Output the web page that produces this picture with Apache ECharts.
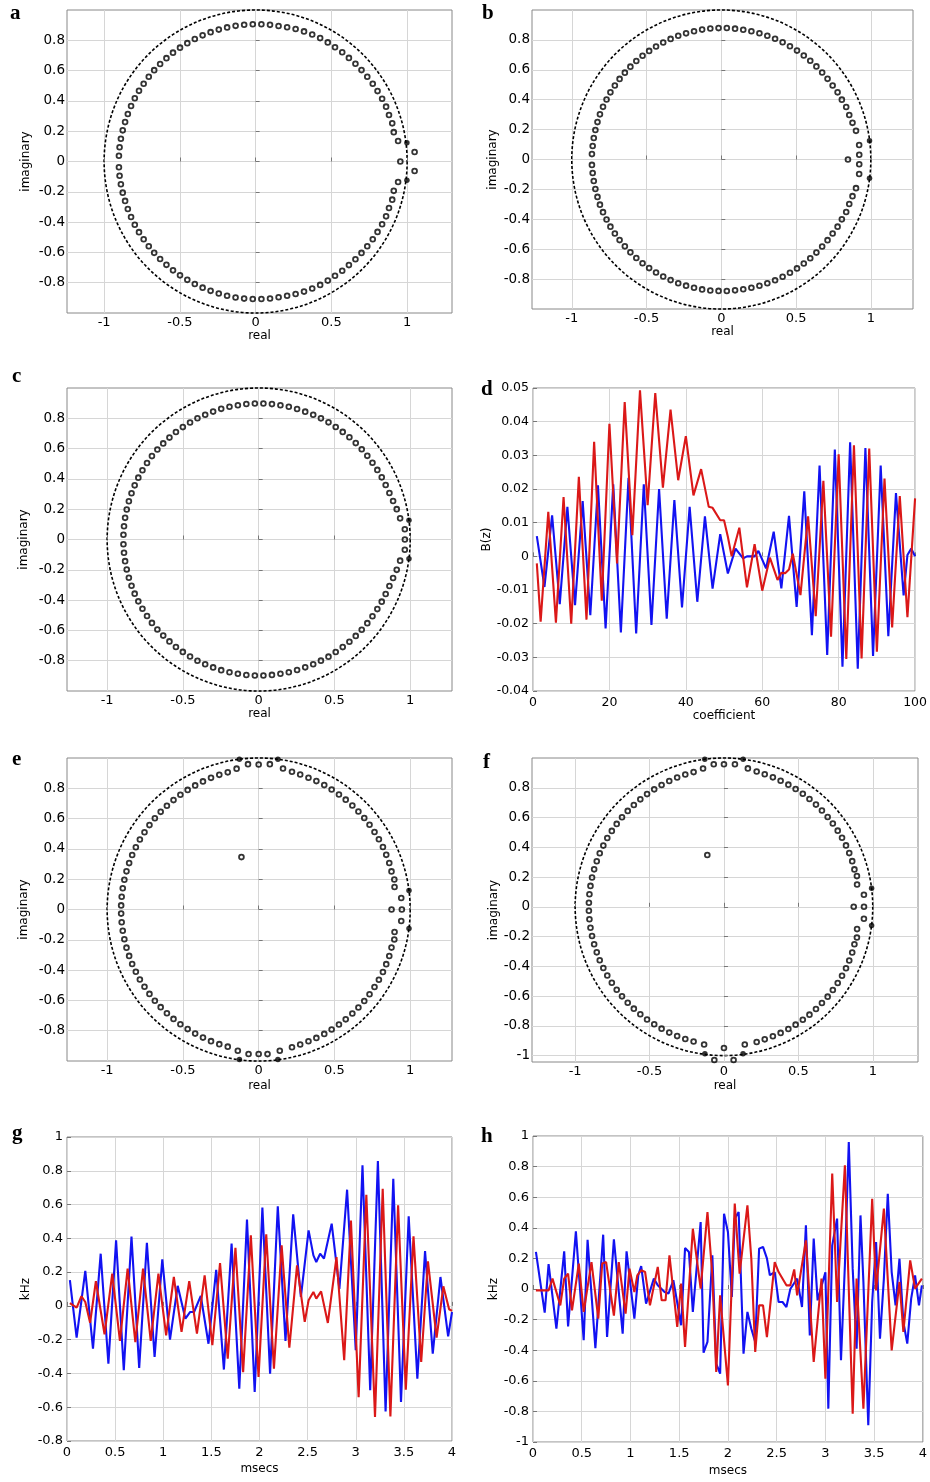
<!DOCTYPE html>
<html>
<head>
<meta charset="utf-8">
<script src="https://cdn.jsdelivr.net/npm/echarts@6/dist/echarts.min.js"></script>
<style>
html, body { margin: 0; padding: 0; background: #fff; }
#main { width: 930px; height: 1482px; }
</style>
</head>
<body>
<div id="main"></div>
<script>
// ---- data: zeros as [radius, angle in degrees] ----
var zerosA = [
    [.955, 0], [.95, 8.2], [.95, -8.2], [1.051, 3.4], [1.051, -3.4],
    [.932, 12], [.936, 15.6], [.932, 19.2], [.934, 22.8], [.932, 26.4], [.929, 30], [.928, 33.6], [.925, 37.2],
    [.923, 40.8], [.922, 44.4], [.92, 48], [.92, 51.6], [.918, 55.2], [.919, 58.8], [.919, 62.4], [.918, 66],
    [.916, 69.6], [.913, 73.2], [.91, 76.8], [.907, 80.4], [.907, 84], [.907, 87.6], [.906, 91.2], [.906, 94.8],
    [.905, 98.4], [.905, 102], [.904, 105.6], [.904, 109.2], [.903, 112.8], [.903, 116.4], [.902, 120], [.902, 123.6],
    [.902, 127.2], [.901, 130.8], [.901, 134.4], [.901, 138], [.9, 141.6], [.9, 145.2], [.9, 148.8], [.9, 152.4],
    [.9, 156], [.9, 159.6], [.9, 163.2], [.901, 166.8], [.902, 170.4], [.903, 174], [.903, 177.6],
    [.932, -12], [.936, -15.6], [.932, -19.2], [.934, -22.8], [.932, -26.4], [.929, -30], [.928, -33.6], [.925, -37.2],
    [.923, -40.8], [.922, -44.4], [.92, -48], [.92, -51.6], [.918, -55.2], [.919, -58.8], [.919, -62.4], [.918, -66],
    [.916, -69.6], [.913, -73.2], [.91, -76.8], [.909, -80.4], [.909, -84], [.908, -87.6], [.908, -91.2], [.908, -94.8],
    [.907, -98.4], [.906, -102], [.905, -105.6], [.904, -109.2], [.903, -112.8], [.903, -116.4], [.902, -120], [.902, -123.6],
    [.902, -127.2], [.901, -130.8], [.901, -134.4], [.901, -138], [.9, -141.6], [.9, -145.2], [.9, -148.8], [.9, -152.4],
    [.9, -156], [.9, -159.6], [.9, -163.2], [.901, -166.8], [.902, -170.4], [.903, -174], [.903, -177.6]
];
var dotsA = [[1.006, 7.1], [1.006, -7.1]];

var zerosB = [
    [.847, 0], [.923, 2], [.923, -2], [.927, 6], [.927, -6],
    [.921, 12], [.911, 15.6], [.906, 19.2], [.906, 22.8], [.9, 26.4], [.898, 30], [.894, 33.6], [.892, 37.2],
    [.891, 40.8], [.89, 44.4], [.889, 48], [.888, 51.6], [.887, 55.2], [.886, 58.8], [.885, 62.4], [.884, 66],
    [.883, 69.6], [.882, 73.2], [.881, 76.8], [.88, 80.4], [.88, 84], [.88, 87.6], [.879, 91.2], [.879, 94.8],
    [.878, 98.4], [.877, 102], [.876, 105.6], [.876, 109.2], [.875, 112.8], [.874, 116.4], [.873, 120], [.872, 123.6],
    [.871, 127.2], [.87, 130.8], [.869, 134.4], [.868, 138], [.868, 141.6], [.867, 145.2], [.867, 148.8], [.866, 152.4],
    [.866, 156], [.866, 159.6], [.865, 163.2], [.865, 166.8], [.865, 170.4], [.865, 174], [.866, 177.6],
    [.921, -12], [.911, -15.6], [.906, -19.2], [.906, -22.8], [.9, -26.4], [.898, -30], [.894, -33.6], [.892, -37.2],
    [.891, -40.8], [.89, -44.4], [.889, -48], [.888, -51.6], [.887, -55.2], [.886, -58.8], [.885, -62.4], [.884, -66],
    [.883, -69.6], [.882, -73.2], [.881, -76.8], [.88, -80.4], [.88, -84], [.88, -87.6], [.879, -91.2], [.879, -94.8],
    [.878, -98.4], [.877, -102], [.876, -105.6], [.876, -109.2], [.875, -112.8], [.874, -116.4], [.873, -120], [.872, -123.6],
    [.871, -127.2], [.87, -130.8], [.869, -134.4], [.868, -138], [.868, -141.6], [.867, -145.2], [.867, -148.8], [.866, -152.4],
    [.866, -156], [.866, -159.6], [.865, -163.2], [.865, -166.8], [.865, -170.4], [.865, -174], [.866, -177.6]
];
var dotsB = [[.999, 7.2], [.999, -7.2]];

var zerosC = [
    [.965, 0], [.967, 4], [.967, -4], [.944, 8.5], [.944, -8.5],
    [.933, 12.4], [.923, 16], [.916, 19.6], [.912, 23.2], [.91, 26.8], [.908, 30.4], [.906, 34], [.905, 37.6],
    [.904, 41.2], [.903, 44.8], [.902, 48.4], [.901, 52], [.9, 55.6], [.9, 59.2], [.899, 62.8], [.899, 66.4],
    [.898, 70], [.898, 73.6], [.898, 77.2], [.898, 80.8], [.898, 84.4], [.898, 88], [.898, 91.6], [.898, 95.2],
    [.897, 98.8], [.897, 102.4], [.897, 106], [.896, 109.6], [.896, 113.2], [.896, 116.8], [.895, 120.4], [.895, 124],
    [.895, 127.6], [.894, 131.2], [.894, 134.8], [.894, 138.4], [.894, 142], [.893, 145.6], [.893, 149.2], [.893, 152.8],
    [.893, 156.4], [.893, 160], [.893, 163.6], [.893, 167.2], [.893, 170.8], [.893, 174.4], [.893, 178],
    [.933, -12.4], [.923, -16], [.916, -19.6], [.912, -23.2], [.91, -26.8], [.908, -30.4], [.906, -34], [.905, -37.6],
    [.904, -41.2], [.903, -44.8], [.902, -48.4], [.901, -52], [.9, -55.6], [.9, -59.2], [.899, -62.8], [.899, -66.4],
    [.898, -70], [.898, -73.6], [.898, -77.2], [.898, -80.8], [.898, -84.4], [.898, -88], [.898, -91.6], [.898, -95.2],
    [.897, -98.8], [.897, -102.4], [.897, -106], [.896, -109.6], [.896, -113.2], [.896, -116.8], [.895, -120.4], [.895, -124],
    [.895, -127.6], [.894, -131.2], [.894, -134.8], [.894, -138.4], [.894, -142], [.893, -145.6], [.893, -149.2], [.893, -152.8],
    [.893, -156.4], [.893, -160], [.893, -163.6], [.893, -167.2], [.893, -170.8], [.893, -174.4], [.893, -178]
];
var dotsC = [[1.0, 7.3], [1.0, -7.3]];

// ring shared by e and f (the two designs differ near the real axis and at +-90 deg)
var ringEF = [
    [.912, 16], [.915, 19.6], [.916, 23.2], [.918, 26.7], [.919, 30.3], [.92, 33.8], [.921, 37.4], [.922, 40.9],
    [.923, 44.5], [.924, 48], [.925, 51.6], [.926, 55.1], [.927, 58.7], [.928, 62.2], [.929, 65.8], [.93, 69.3],
    [.932, 72.9], [.935, 76.4],
    [.928, 102.7], [.926, 106.3], [.924, 109.9], [.922, 113.5], [.92, 117.1], [.918, 120.7], [.917, 124.3], [.915, 127.9],
    [.914, 131.5], [.913, 135.1], [.912, 138.7], [.911, 142.3], [.91, 145.9], [.91, 149.5], [.909, 153.1], [.909, 156.7],
    [.908, 160.3], [.908, 163.9], [.908, 167.5], [.908, 171.1], [.908, 174.7], [.908, 178.3],
    [.912, -16], [.915, -19.6], [.916, -23.2], [.918, -26.7], [.919, -30.3], [.92, -33.8], [.921, -37.4], [.922, -40.9],
    [.923, -44.5], [.924, -48], [.925, -51.6], [.926, -55.1], [.927, -58.7], [.928, -62.2], [.929, -65.8], [.93, -69.3],
    [.932, -72.9], [.935, -76.4],
    [.928, -102.7], [.926, -106.3], [.924, -109.9], [.922, -113.5], [.92, -117.1], [.918, -120.7], [.917, -124.3], [.915, -127.9],
    [.914, -131.5], [.913, -135.1], [.912, -138.7], [.911, -142.3], [.91, -145.9], [.91, -149.5], [.909, -153.1], [.909, -156.7],
    [.908, -160.3], [.908, -163.9], [.908, -167.5], [.908, -171.1], [.908, -174.7], [.908, -178.3]
];
var extraE = [
    [.945, 0], [.877, 0], [.944, 4.6], [.944, -4.6], [.909, 9.4], [.909, -9.4], [.917, 12.5], [.917, -12.5],
    [.944, 80.2], [.962, 85.6], [.957, 90], [.962, 94.2], [.941, 98.9],
    [.943, -81.5], [.956, -86.5], [.954, -90], [.956, -94], [.942, -98.4],
    [.364, 108.2]
];
var dotsE = [[1.0, 7.2], [1.0, -7.2], [1.0, 82.7], [1.0, 97.3], [.998, -82.7], [.998, -97.3]];
var extraF = [
    [.941, 0], [.872, 0], [.944, 4.9], [.944, -4.9], [.907, 9.5], [.907, -9.5], [.917, 13], [.917, -13],
    [.944, 80.2], [.961, 85.6], [.958, 90], [.96, 94.1], [.94, 98.6],
    [.936, -81.4], [1.032, -86.4], [.949, -90], [1.032, -93.6], [.935, -98.2],
    [.366, 107.8]
];
var dotsF = [[1.0, 7.2], [1.0, -7.2], [1.0, 82.6], [1.0, 97.4], [.995, -82.6], [.995, -97.4]];

// ---- data: filter coefficients B(z) ----
var dBlue = [
    [1, .006], [3, -.0091], [5, .0122], [7, -.0142], [9, .0147], [11, -.0145], [13, .0164], [15, -.0175],
    [17, .0211], [19, -.0214], [21, .0214], [23, -.0226], [25, .0233], [27, -.0229], [29, .0214], [31, -.0204],
    [33, .02], [35, -.0185], [37, .0167], [39, -.0152], [41, .0147], [43, -.0135], [45, .0119], [47, -.0096],
    [49, .0066], [51, -.0051], [53, .0023], [55, -.0006], [56, 0], [58, 0], [59, .0016], [61, -.0036],
    [63, .0073], [65, -.0095], [67, .012], [69, -.015], [71, .0193], [73, -.0234], [75, .027], [77, -.0293],
    [79, .0317], [81, -.0328], [83, .0339], [85, -.0334], [87, .0322], [89, -.0296], [91, .027], [93, -.0237],
    [95, .0188], [97, -.0116], [98, .0004], [99, .0023], [100, 0]
];
var dRed = [
    [1, -.0021], [2, -.0194], [4, .0132], [6, -.0197], [8, .0176], [10, -.02], [12, .0236], [14, -.0188],
    [16, .034], [18, -.0132], [20, .0394], [22, -.0021], [24, .0458], [26, .0063], [28, .0493], [30, .0152],
    [32, .0485], [34, .0204], [36, .0436], [38, .0226], [40, .0357], [42, .0181], [44, .0259], [46, .0147],
    [47, .0144], [49, .0107], [50, .0107], [51, .0058], [52, 0], [54, .0085], [56, -.0092], [58, .0036],
    [60, -.0102], [62, -.0004], [64, -.007], [65, -.0049], [66, -.005], [67, -.0039], [68, .0008], [70, -.0115],
    [72, .0119], [74, -.0178], [76, .0224], [78, -.0239], [80, .0303], [82, -.0305], [84, .033], [86, -.0303],
    [88, .032], [90, -.0283], [92, .0231], [94, -.0211], [96, .0179], [98, -.0181], [100, .0172]
];

// ---- data: instantaneous frequency (msecs, kHz) ----
var gBlue = [
    [0.03, .152], [0.1, -.188], [0.19, .207], [0.27, -.253], [0.35, .309], [0.43, -.342], [0.51, .388], [0.59, -.381],
    [0.67, .411], [0.75, -.367], [0.83, .374], [0.91, -.302], [0.99, .276], [1.07, -.2], [1.15, .119], [1.23, -.076],
    [1.28, -.036], [1.32, -.036], [1.39, .059], [1.47, -.224], [1.55, .214], [1.63, -.377], [1.71, .369], [1.79, -.49],
    [1.87, .511], [1.95, -.509], [2.03, .582], [2.11, -.401], [2.19, .59], [2.27, -.208], [2.35, .542], [2.43, .053],
    [2.51, .447], [2.56, .299], [2.59, .26], [2.63, .309], [2.67, .28], [2.75, .487], [2.83, .1], [2.91, .688],
    [3.0, -.263], [3.07, .832], [3.15, -.5], [3.23, .858], [3.31, -.625], [3.39, .753], [3.47, -.569], [3.55, .53],
    [3.64, -.431], [3.72, .325], [3.8, -.283], [3.88, .171], [3.96, -.181], [4.0, -.036]
];
var gRed = [
    [0.03, .017], [0.1, -.01], [0.15, .057], [0.19, .023], [0.24, -.1], [0.3, .146], [0.39, -.168], [0.47, .191],
    [0.55, -.207], [0.63, .221], [0.71, -.214], [0.79, .221], [0.87, -.207], [0.95, .191], [1.03, -.174], [1.11, .171],
    [1.19, -.154], [1.27, .147], [1.35, -.164], [1.43, .181], [1.51, -.233], [1.59, .254], [1.67, -.312], [1.75, .344],
    [1.83, -.392], [1.91, .418], [1.99, -.42], [2.07, .424], [2.15, -.372], [2.23, .358], [2.31, -.248], [2.39, .24],
    [2.47, -.095], [2.51, .033], [2.56, .082], [2.59, .043], [2.64, .086], [2.71, -.101], [2.8, .289], [2.88, -.322],
    [2.95, .506], [3.03, -.54], [3.11, .658], [3.2, -.658], [3.28, .694], [3.36, -.654], [3.44, .595], [3.52, -.496],
    [3.6, .412], [3.68, -.332], [3.75, .264], [3.84, -.188], [3.91, .116], [3.97, -.02], [4.0, -.03]
];
var hBlue = [
    [0.03, .242], [0.12, -.155], [0.16, .163], [0.24, -.259], [0.32, .246], [0.36, -.244], [0.44, .377], [0.52, -.335],
    [0.56, .322], [0.64, -.386], [0.72, .355], [0.76, -.314], [0.83, .325], [0.92, -.292], [0.96, .246], [1.04, -.194],
    [1.08, .089], [1.11, .15], [1.16, -.096], [1.24, .068], [1.28, .024], [1.35, -.02], [1.39, -.03], [1.44, .057],
    [1.52, -.237], [1.56, .268], [1.6, .242], [1.64, -.15], [1.72, .438], [1.75, -.416], [1.79, -.346], [1.84, .22],
    [1.88, -.488], [1.92, -.553], [1.96, .492], [2.0, .373], [2.04, -.052], [2.07, .46], [2.11, .503], [2.16, -.423],
    [2.2, -.15], [2.24, -.26], [2.28, -.346], [2.32, .264], [2.36, .275], [2.4, .2], [2.43, .09], [2.48, .11],
    [2.52, -.085], [2.56, -.085], [2.6, -.118], [2.64, 0], [2.71, .068], [2.76, -.118], [2.8, .416], [2.84, -.303],
    [2.88, .329], [2.92, -.074], [3.0, .11], [3.03, -.782], [3.07, .285], [3.12, .46], [3.16, -.466], [3.2, .155],
    [3.24, .961], [3.28, .133], [3.32, -.39], [3.36, .481], [3.39, .046], [3.44, -.891], [3.48, -.085], [3.52, .307],
    [3.56, -.325], [3.6, .068], [3.64, .623], [3.68, .111], [3.72, -.107], [3.76, .198], [3.8, -.216], [3.84, -.357],
    [3.88, -.063], [3.92, .089], [3.96, -.107], [3.99, .024]
];
var hRed = [
    [0.03, -.009], [0.08, -.009], [0.16, -.009], [0.2, .068], [0.28, -.107], [0.32, .068], [0.36, .1], [0.4, -.14],
    [0.47, .166], [0.52, -.15], [0.6, .176], [0.67, -.194], [0.71, .166], [0.75, .176], [0.83, -.174], [0.88, .176],
    [0.95, -.161], [0.99, .133], [1.04, -.02], [1.07, .089], [1.11, .122], [1.15, .111], [1.2, -.107], [1.28, .144],
    [1.32, -.074], [1.36, -.074], [1.4, .22], [1.48, -.248], [1.52, .035], [1.56, -.379], [1.64, .394], [1.72, .002],
    [1.79, .503], [1.84, .089], [1.88, -.542], [1.92, -.041], [2.0, -.63], [2.07, .558], [2.12, .1], [2.2, .547],
    [2.24, .198], [2.28, -.412], [2.32, -.107], [2.36, -.107], [2.4, -.314], [2.48, .176], [2.52, .111], [2.6, .024],
    [2.64, .024], [2.68, .128], [2.71, -.041], [2.8, .318], [2.88, -.477], [2.96, .068], [3.0, -.586], [3.07, .754],
    [3.12, -.085], [3.2, .808], [3.28, -.815], [3.32, .068], [3.39, -.782], [3.48, .59], [3.52, -.009], [3.6, .525],
    [3.68, -.401], [3.76, .046], [3.8, -.281], [3.87, .187], [3.92, .002], [3.99, .068]
];

// tick values
var reTicks = [-1, -0.5, 0, 0.5, 1];
var imTicks = [-0.8, -0.6, -0.4, -0.2, 0, 0.2, 0.4, 0.6, 0.8];
var imTicksF = [-1, -0.8, -0.6, -0.4, -0.2, 0, 0.2, 0.4, 0.6, 0.8];

var BLUE = '#1212f2';
var RED = '#db1818';
var FONT = 'DejaVu Sans';

var grids = [], xAxes = [], yAxes = [], polars = [], angleAxes = [], radiusAxes = [], series = [], graphics = [];

function fmt(v) {
    return String(+(+v).toFixed(3));
}

function axis(gi, dim, o) {
    return {
        gridIndex: gi,
        type: 'value',
        min: o.range[0],
        max: o.range[1],
        interval: o.interval,
        axisLine: {show: false},
        axisTick: {show: true, inside: true, length: 4, customValues: o.ticks, lineStyle: {color: '#777'}},
        axisLabel: {
            customValues: o.ticks, margin: o.margin, formatter: fmt,
            fontFamily: FONT, fontSize: o.font, color: '#000'
        },
        splitLine: {show: true, lineStyle: {color: '#d6d6d6', width: 1}},
        name: o.name,
        nameLocation: 'middle',
        nameGap: o.gap,
        nameRotate: dim === 'y' ? 90 : 0,
        nameTextStyle: {fontFamily: FONT, fontSize: 12, color: '#000'}
    };
}

function addGrid(box) {
    grids.push({
        left: box[0], top: box[1], width: box[2], height: box[3],
        show: true, borderColor: '#888', borderWidth: 1, backgroundColor: 'transparent'
    });
    return grids.length - 1;
}

function letter(t, x, y) {
    graphics.push({
        type: 'text', x: x, y: y, silent: true,
        style: {text: t, font: 'bold 21px "Liberation Serif"', fill: '#000', verticalAlign: 'middle'}
    });
}

function zPlane(p, open, dots) {
    var gi = addGrid(p.box);
    xAxes.push(axis(gi, 'x', {range: p.x, ticks: reTicks, margin: 3, font: 13, name: 'real', gap: p.xGap}));
    yAxes.push(axis(gi, 'y', {range: p.y, ticks: p.yTicks, margin: 2, font: 13.5, name: 'imaginary', gap: p.yGap}));
    var ppx = p.box[2] / (p.x[1] - p.x[0]);
    var ppy = p.box[3] / (p.y[1] - p.y[0]);
    var pi = polars.length;
    polars.push({center: [p.box[0] - p.x[0] * ppx, p.box[1] + p.y[1] * ppy], radius: ppx});
    angleAxes.push({
        polarIndex: pi, type: 'value', min: -180, max: 180, startAngle: 180, clockwise: false,
        axisLine: {show: true, lineStyle: {color: '#000', width: 1.6, type: [3, 2]}},
        axisTick: {show: false}, axisLabel: {show: false}, splitLine: {show: false}, splitArea: {show: false}
    });
    radiusAxes.push({
        polarIndex: pi, type: 'value', min: 0, max: 1,
        axisLine: {show: false}, axisTick: {show: false}, axisLabel: {show: false}, splitLine: {show: false}
    });
    open.forEach(function (d) {
        series.push({
            type: 'scatter', coordinateSystem: 'polar', polarIndex: pi, data: d, clip: false,
            symbol: 'circle', symbolSize: 4.8, silent: true,
            itemStyle: {color: 'rgba(0,0,0,0)', borderColor: '#000', borderWidth: 1.8}
        });
    });
    series.push({
        type: 'scatter', coordinateSystem: 'polar', polarIndex: pi, data: dots, clip: false,
        symbol: 'circle', symbolSize: 5.5, silent: true, itemStyle: {color: '#000'}
    });
    letter(p.letter[0], p.letter[1], p.letter[2]);
}

function waves(p, blue, red) {
    var gi = addGrid(p.box);
    xAxes.push(axis(gi, 'x', {range: p.x, interval: p.xi, margin: 5, font: p.font, name: p.xName, gap: p.xGap}));
    yAxes.push(axis(gi, 'y', {range: p.y, interval: p.yi, margin: 4, font: p.font, name: p.yName, gap: p.yGap}));
    [[blue, BLUE], [red, RED]].forEach(function (s) {
        series.push({
            type: 'line', xAxisIndex: gi, yAxisIndex: gi, data: s[0], symbol: 'none', silent: true,
            lineStyle: {color: s[1], width: 2.1}, itemStyle: {color: s[1]}
        });
    });
    letter(p.letter[0], p.letter[1], p.letter[2]);
}

zPlane({box: [67, 10, 385, 303], x: [-1.245, 1.296], y: [-1, 1], yTicks: imTicks, xGap: 15, yGap: 35, letter: ['a', 10, 14]},
    [zerosA], dotsA);
zPlane({box: [532, 10, 381, 299], x: [-1.266, 1.282], y: [-1, 1], yTicks: imTicks, xGap: 14, yGap: 33, letter: ['b', 482, 14]},
    [zerosB], dotsB);
zPlane({box: [67, 388, 385, 303], x: [-1.265, 1.276], y: [-1, 1], yTicks: imTicks, xGap: 15, yGap: 37, letter: ['c', 12, 377]},
    [zerosC], dotsC);
waves({box: [533, 388, 385, 303], x: [0, 100], xi: 20, y: [-0.04, 0.05], yi: 0.01, font: 12.5,
    xName: 'coefficient', yName: 'B(z)', xGap: 15, yGap: 36, letter: ['d', 481, 390]}, dBlue, dRed);
zPlane({box: [67, 758, 385, 303], x: [-1.265, 1.276], y: [-1, 1], yTicks: imTicks, xGap: 19, yGap: 37, letter: ['e', 12, 760]},
    [ringEF, extraE], dotsE);
zPlane({box: [532, 758, 386, 304], x: [-1.29, 1.304], y: [-1.043, 1], yTicks: imTicksF, xGap: 18, yGap: 31, letter: ['f', 483, 763]},
    [ringEF, extraF], dotsF);
waves({box: [67, 1137, 385, 304], x: [0, 4], xi: 0.5, y: [-0.8, 1], yi: 0.2, font: 13,
    xName: 'msecs', yName: 'kHz', xGap: 22, yGap: 35, letter: ['g', 12, 1134]}, gBlue, gRed);
waves({box: [533, 1136, 391, 306], x: [0, 4], xi: 0.5, y: [-1, 1], yi: 0.2, font: 13,
    xName: 'msecs', yName: 'kHz', xGap: 23, yGap: 30, letter: ['h', 481, 1137]}, hBlue, hRed);

var chart = echarts.init(document.getElementById('main'));
chart.setOption({
    animation: false,
    backgroundColor: '#fff',
    grid: grids,
    xAxis: xAxes,
    yAxis: yAxes,
    polar: polars,
    angleAxis: angleAxes,
    radiusAxis: radiusAxes,
    series: series,
    graphic: graphics
});
</script>
</body>
</html>
